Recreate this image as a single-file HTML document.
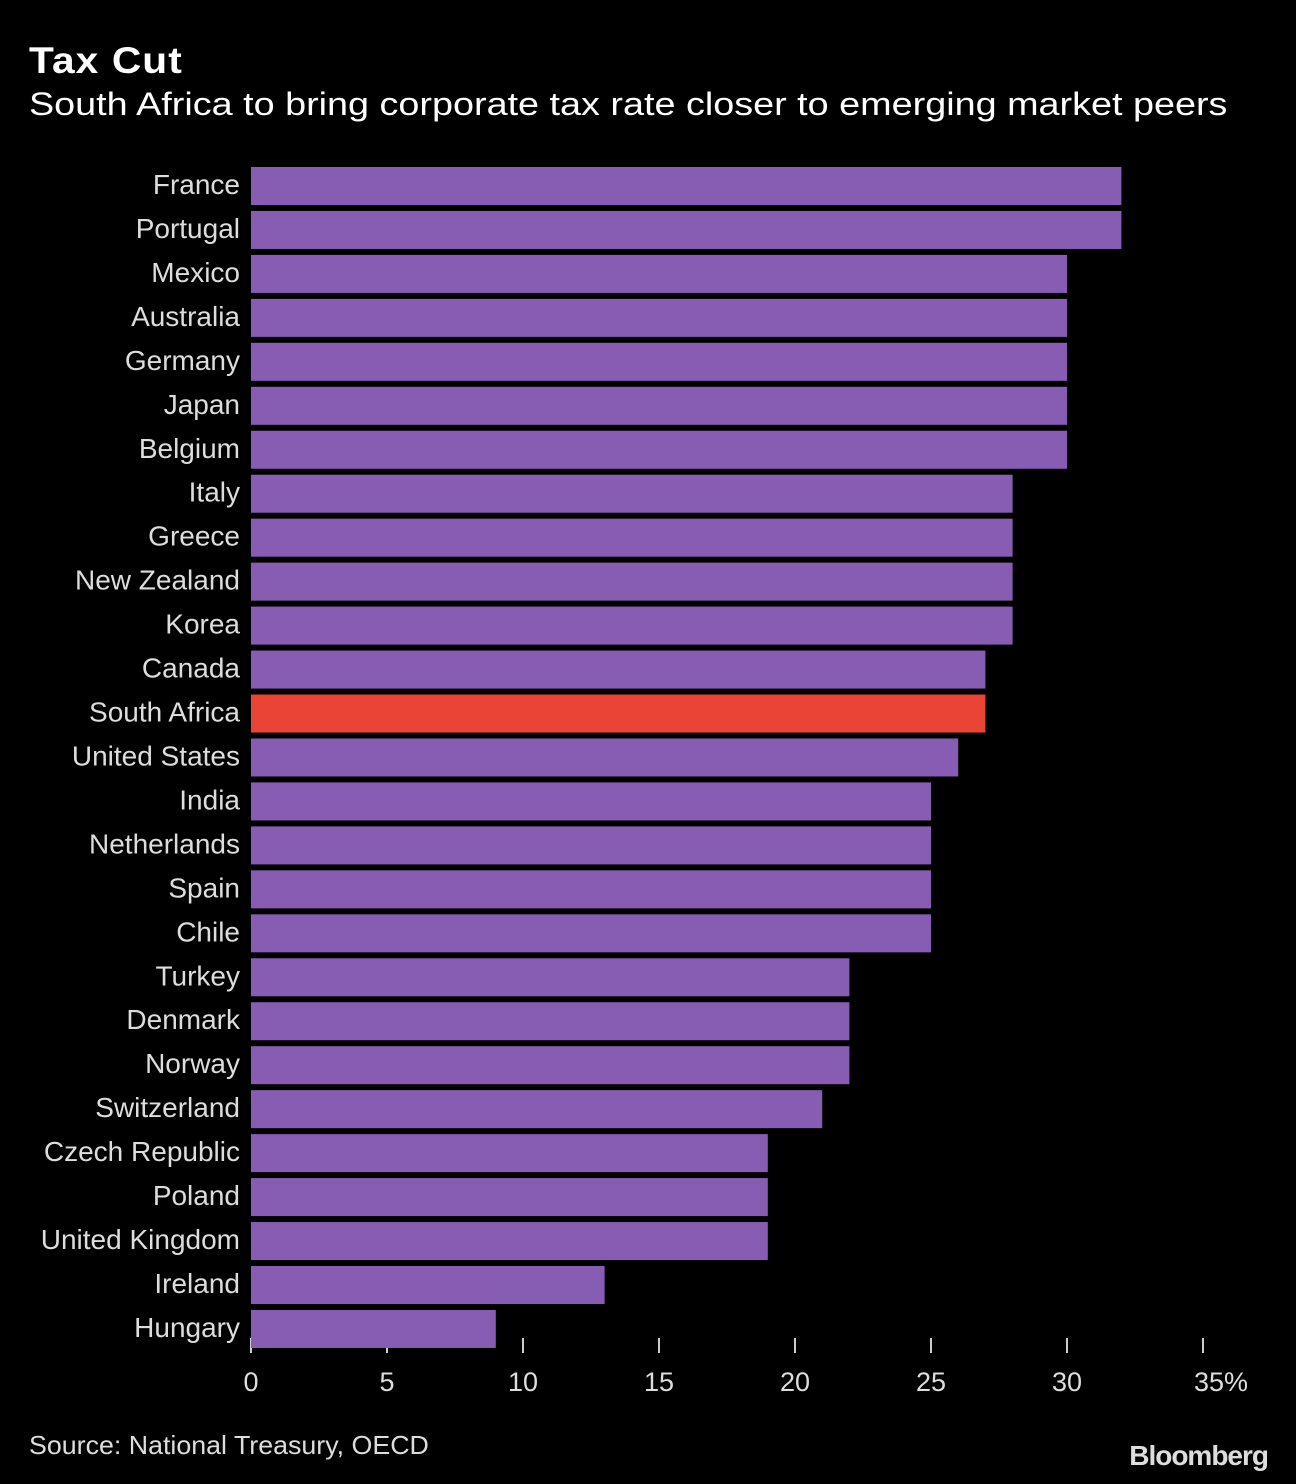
<!DOCTYPE html>
<html><head><meta charset="utf-8"><style>
body{margin:0;background:#000;width:1296px;height:1484px;overflow:hidden;font-family:"Liberation Sans",sans-serif;color:#fff}
#title{position:absolute;left:29px;top:40px;font-size:37px;font-weight:bold;letter-spacing:1px;transform:scaleX(1.1);transform-origin:left top}
#subtitle{position:absolute;left:29px;top:86px;font-size:32px;transform:scaleX(1.18);transform-origin:left top;white-space:nowrap}
#source{position:absolute;left:29px;top:1430px;font-size:26px;color:#ddd;transform:scaleX(1.03);transform-origin:left top}
#logo{position:absolute;right:28px;top:1440px;font-size:28px;font-weight:bold;color:#ddd;letter-spacing:-1px}
</style></head><body>
<div id="title">Tax Cut</div>
<div id="subtitle">South Africa to bring corporate tax rate closer to emerging market peers</div>
<svg id="chart" width="1296" height="1484" style="position:absolute;left:0;top:0"></svg>
<div id="source">Source: National Treasury, OECD</div>
<div id="logo">Bloomberg</div>
<script>
const categories=["France","Portugal","Mexico","Australia","Germany","Japan","Belgium","Italy","Greece","New Zealand","Korea","Canada","South Africa","United States","India","Netherlands","Spain","Chile","Turkey","Denmark","Norway","Switzerland","Czech Republic","Poland","United Kingdom","Ireland","Hungary"];
const values=[32,32,30,30,30,30,30,28,28,28,28,27,27,26,25,25,25,25,22,22,22,21,19,19,19,13,9];
const highlight=["South Africa"];
const ticks=[0,5,10,15,20,25,30,35];
const tickLabels=["0","5","10","15","20","25","30","35%"];
const svg=document.getElementById('chart');
const NS="http://www.w3.org/2000/svg";
const x=v=>251+v*27.2;
const y=i=>167+i*43.96;
const bh=38;
function mk(t,a){const e=document.createElementNS(NS,t);for(const k in a)e.setAttribute(k,a[k]);svg.appendChild(e);return e;}
ticks.forEach((t,i)=>{
  const l=mk('line',{x1:x(t),x2:x(t),y1:1338,y2:1353,stroke:'#ccc','stroke-width':2});
  
  
  const tx=mk('text',{x:x(t),y:1391,fill:'#ddd','font-size':27,'text-anchor':i==ticks.length-1?'start':'middle','font-family':'Liberation Sans, sans-serif'});
  if(i==ticks.length-1)tx.setAttribute('x',x(t)-9);
  tx.textContent=tickLabels[i];
  
  
});
categories.forEach((c,i)=>{
  const r=mk('rect',{x:x(0),y:y(i),width:x(values[i])-x(0),height:bh,fill:highlight.includes(c)?'#ea4436':'#875db3'});
  
  
  const t=mk('text',{x:240,y:y(i)+bh/2+8,fill:'#ddd','font-size':28,'text-anchor':'end','font-family':'Liberation Sans, sans-serif'});
  t.textContent=c;
  
  
});
</script>
</body></html>
